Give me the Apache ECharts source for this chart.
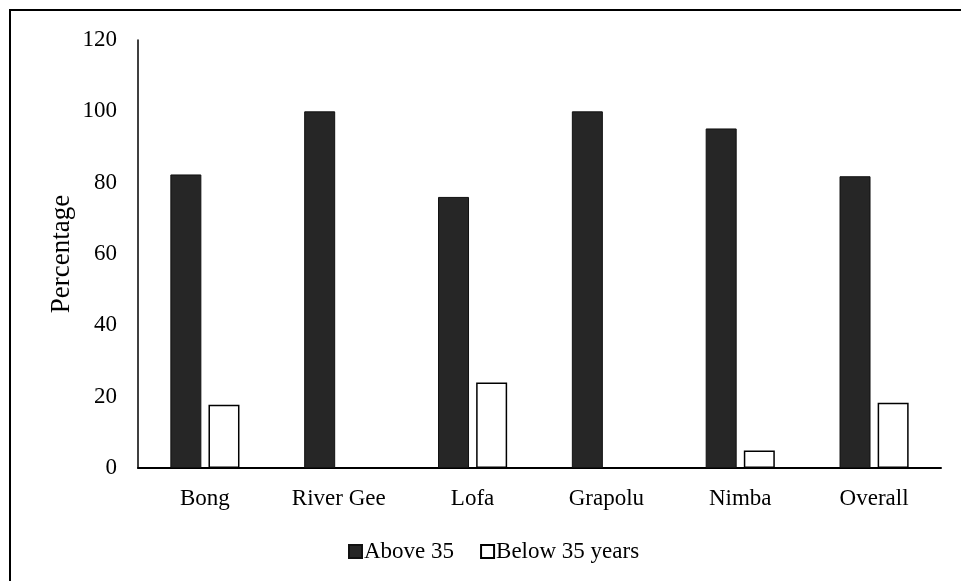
<!DOCTYPE html>
<html>
<head>
<meta charset="utf-8">
<script src="https://cdn.jsdelivr.net/npm/echarts@6/dist/echarts.min.js"></script>
<style>
  html, body { margin: 0; padding: 0; background: #fff; }
  #chart { width: 961px; height: 581px; }
</style>
</head>
<body>
<div id="chart"></div>
<script>
// Counties surveyed, plus the overall figure
const categories = ['Bong', 'River Gee', 'Lofa', 'Grapolu', 'Nimba', 'Overall'];

// Share of respondents by age group (%)
const above35 = [82.3, 100, 76.0, 100, 95.2, 81.8];
const below35 = [17.7, 0, 24.0, 0, 4.9, 18.3];

const yTicks = { min: 0, max: 120, interval: 20 };

const FONT = '"Liberation Serif", "Times New Roman", serif';

const chart = echarts.init(document.getElementById('chart'), null, { renderer: 'canvas' });

chart.setOption({
  backgroundColor: '#ffffff',
  animation: false,
  textStyle: { fontFamily: FONT, color: '#000' },
  graphic: [{
    type: 'rect',
    shape: { x: 10, y: 10, width: 970, height: 600 },
    style: { fill: 'none', stroke: '#000', lineWidth: 2 },
    silent: true
  }],
  grid: { left: 138, right: 20, top: 40, bottom: 113, containLabel: false },
  legend: {
    left: 343,
    top: 535,
    icon: 'rect',
    itemWidth: 13,
    itemHeight: 13,
    itemGap: 26,
    textStyle: { fontFamily: FONT, fontSize: 23, color: '#000', padding: [0, 0, 0, -3] },
    data: ['Above 35', 'Below 35 years']
  },
  xAxis: {
    type: 'category',
    data: categories,
    axisLine: { lineStyle: { color: '#000', width: 2 } },
    axisTick: { show: false },
    axisLabel: { fontFamily: FONT, fontSize: 23, color: '#000', margin: 19 }
  },
  yAxis: {
    type: 'value',
    min: yTicks.min,
    max: yTicks.max,
    interval: yTicks.interval,
    name: 'Percentage',
    nameLocation: 'middle',
    nameGap: 63,
    nameMoveOverlap: false,
    nameTextStyle: { fontFamily: FONT, fontSize: 27, color: '#000' },
    axisLine: { show: true, lineStyle: { color: '#000', width: 1.5 } },
    axisTick: { show: false },
    splitLine: { show: false },
    axisLabel: { fontFamily: FONT, fontSize: 23, color: '#000', margin: 21 }
  },
  series: [
    {
      name: 'Above 35',
      type: 'bar',
      data: above35,
      barWidth: 31,
      barGap: '23%',
      itemStyle: { color: '#262626', borderColor: '#111', borderWidth: 1 }
    },
    {
      name: 'Below 35 years',
      type: 'bar',
      data: below35,
      barWidth: 31,
      itemStyle: { color: '#ffffff', borderColor: '#000', borderWidth: 1.5 }
    }
  ]
});
</script>
</body>
</html>
